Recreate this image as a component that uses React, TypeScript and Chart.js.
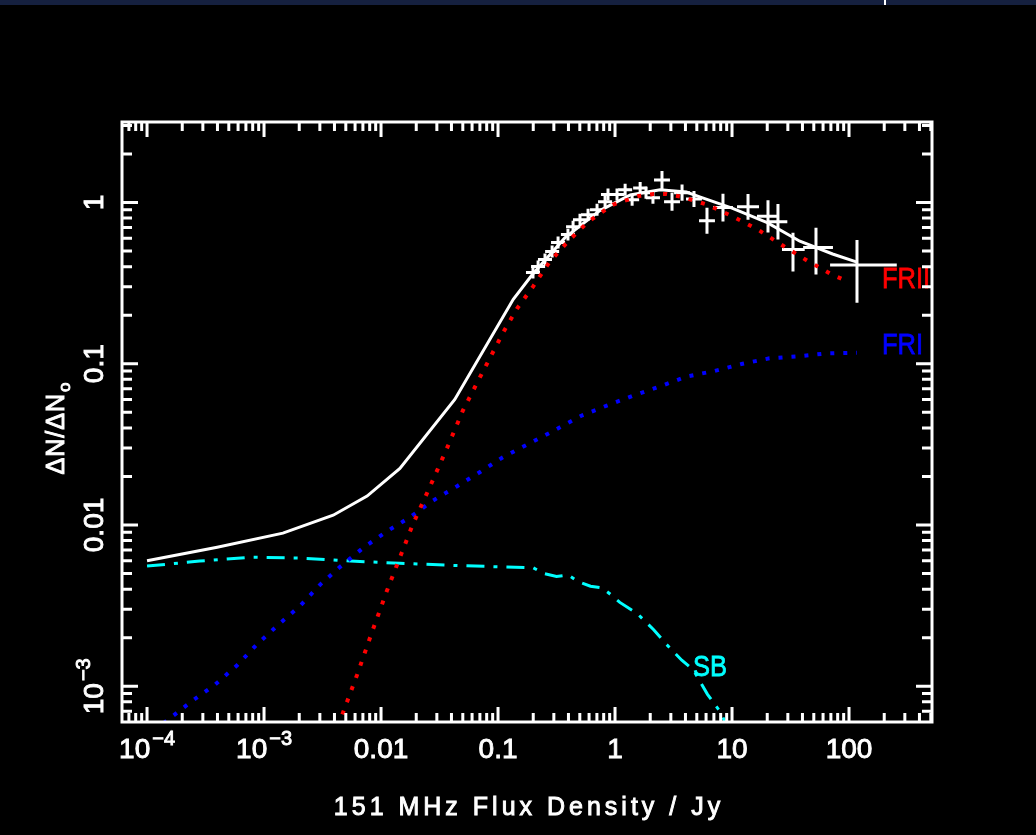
import React, { useEffect, useRef } from 'react';
import { Chart, registerables } from 'chart.js';

Chart.register(...registerables);

const W = 1036;
const H = 835;
const FONT = '"Liberation Sans", Arial, "DejaVu Sans", sans-serif';

// Axis ranges (log)
const xMin = 6.11e-5;
const xMax = 512;
const yMin = 6.17e-4;
const yMax = 3.155;

// Total model (white solid)
const totalX = [1e-4, 3.98e-4, 1.45e-3, 3.9e-3, 7.6e-3, 0.0145, 0.0427, 0.135, 0.195, 0.372, 0.741, 1.35, 2.43, 4.07, 5.37, 10, 20, 38, 72.4, 117];
const totalY = [0.006, 0.00728, 0.0089, 0.0115, 0.0151, 0.0224, 0.06, 0.251, 0.355, 0.603, 0.891, 1.114, 1.2, 1.16, 1.08, 0.923, 0.75, 0.575, 0.479, 0.427];

// FRII (red dotted)
const friiX = [0.00427, 0.00624, 0.00832, 0.0112, 0.0186, 0.0263, 0.0363, 0.0501, 0.0741, 0.11, 0.145, 0.2, 0.275, 0.398, 0.589, 0.955, 1.585, 2.14, 2.75, 3.72, 6.17, 10.2, 16.6, 27.5, 43.7, 72.4, 97.7];
const friiY = [0.000562, 0.001175, 0.00214, 0.00389, 0.01, 0.0174, 0.0295, 0.0513, 0.0891, 0.155, 0.219, 0.302, 0.427, 0.575, 0.759, 0.968, 1.096, 1.13, 1.13, 1.084, 0.968, 0.817, 0.679, 0.537, 0.437, 0.355, 0.324];

// FRI (blue dotted)
const friX = [1.38e-4, 2.45e-4, 3.8e-4, 5.89e-4, 8.71e-4, 1.32e-3, 2.04e-3, 3.02e-3, 4.47e-3, 7.08e-3, 0.0112, 0.0178, 0.0275, 0.0447, 0.0708, 0.11, 0.275, 0.525, 0.851, 1.41, 2.43, 4.07, 7.08, 12.3, 20.9, 36.3, 64.6, 117];
const friY = [5.89e-4, 8.13e-4, 1.02e-3, 1.35e-3, 1.82e-3, 2.4e-3, 3.16e-3, 4.27e-3, 5.5e-3, 7.24e-3, 9.12e-3, 0.0112, 0.0141, 0.0174, 0.0214, 0.0263, 0.0372, 0.0479, 0.055, 0.0631, 0.0724, 0.0832, 0.0902, 0.1, 0.108, 0.111, 0.116, 0.117];

// SB (cyan dash-dot)
const sbX = [1e-4, 2.82e-4, 7.59e-4, 2.04e-3, 5.5e-3, 0.0145, 0.0389, 0.105, 0.2, 0.245, 0.316, 0.398, 0.479, 0.617, 0.776, 0.912, 1.1, 1.55, 2.14, 2.75, 3.72, 4.68, 6.17, 8.13, 9.12];
const sbY = [5.56e-3, 5.97e-3, 6.31e-3, 6.24e-3, 5.97e-3, 5.79e-3, 5.62e-3, 5.5e-3, 5.43e-3, 5.01e-3, 4.79e-3, 4.9e-3, 4.47e-3, 4.17e-3, 4.07e-3, 3.72e-3, 3.31e-3, 2.82e-3, 2.24e-3, 1.82e-3, 1.45e-3, 1.26e-3, 8.91e-4, 6.76e-4, 5.5e-4];

// Observed source counts with error bars (errors in dex)
const pointX = [0.199, 0.22, 0.252, 0.29, 0.326, 0.396, 0.438, 0.502, 0.588, 0.702, 0.822, 0.871, 1.04, 1.22, 1.4, 1.64, 1.84, 2.11, 2.52, 3.07, 3.74, 4.73, 6.11, 8.37, 13.7, 20.3, 24.7, 33.2, 52.2, 117];
const pointY = [0.368, 0.401, 0.443, 0.496, 0.564, 0.632, 0.708, 0.782, 0.839, 0.901, 1.01, 1.12, 1.12, 1.2, 1.04, 1.23, 1.15, 1.07, 1.38, 1.01, 1.15, 1.05, 0.77, 0.93, 0.94, 0.82, 0.76, 0.51, 0.525, 0.41];
const pointExLo = [0.06, 0.06, 0.06, 0.06, 0.06, 0.06, 0.06, 0.06, 0.06, 0.06, 0.06, 0.06, 0.06, 0.06, 0.06, 0.06, 0.06, 0.06, 0.068, 0.068, 0.068, 0.068, 0.068, 0.085, 0.094, 0.094, 0.08, 0.094, 0.11, 0.23];
const pointExHi = [0.06, 0.06, 0.06, 0.06, 0.06, 0.06, 0.06, 0.06, 0.06, 0.06, 0.06, 0.06, 0.06, 0.06, 0.06, 0.06, 0.06, 0.06, 0.068, 0.068, 0.068, 0.068, 0.068, 0.085, 0.094, 0.094, 0.08, 0.1, 0.145, 0.34];
const pointEyLo = [0.037, 0.037, 0.037, 0.037, 0.037, 0.037, 0.037, 0.037, 0.037, 0.037, 0.037, 0.037, 0.037, 0.037, 0.037, 0.037, 0.037, 0.037, 0.056, 0.056, 0.05, 0.05, 0.08, 0.086, 0.08, 0.1, 0.11, 0.135, 0.167, 0.235];
const pointEyHi = [0.037, 0.037, 0.037, 0.037, 0.037, 0.037, 0.037, 0.037, 0.037, 0.037, 0.037, 0.037, 0.037, 0.037, 0.037, 0.037, 0.037, 0.037, 0.056, 0.056, 0.05, 0.05, 0.08, 0.086, 0.08, 0.1, 0.11, 0.105, 0.123, 0.155];

// Tick labels
const xTickValues = [1e-4, 1e-3, 0.01, 0.1, 1, 10, 100];
const xTickBase = ['10', '10', '0.01', '0.1', '1', '10', '100'];
const xTickSup = ['\u22124', '\u22123', '', '', '', '', ''];
const yTickValues = [1e-3, 0.01, 0.1, 1];
const yTickBase = ['10', '0.01', '0.1', '1'];
const yTickSup = ['\u22123', '', '', ''];

// Curve labels (data coordinates of left baseline)
const curveLabelText = ['FRII', 'FRI', 'SB'];
const curveLabelX = [191, 191, 4.64];
const curveLabelY = [0.293, 0.115, 1.16e-3];
const curveLabelColor = ['#ff0000', '#0000ff', '#00ffff'];

const xTitle = '151 MHz Flux Density / Jy';
const yTitleBase = '\u0394N/\u0394N';
const yTitleSub = 'o';

function toXY(xs: number[], ys: number[]) {
  return xs.map((x, i) => ({ x, y: ys[i] }));
}

function heavyText(ctx: CanvasRenderingContext2D, s: string, x: number, y: number, w = 0.9) {
  ctx.fillText(s, x, y);
  ctx.lineWidth = w;
  ctx.strokeStyle = ctx.fillStyle as string;
  ctx.strokeText(s, x, y);
}

function drawSupText(
  ctx: CanvasRenderingContext2D,
  base: string,
  sup: string,
  x: number,
  y: number,
  size: number,
  rot: number
) {
  ctx.save();
  ctx.translate(x, y);
  ctx.rotate(rot);
  ctx.textAlign = 'left';
  ctx.textBaseline = 'alphabetic';
  ctx.font = `${size}px ${FONT}`;
  const wb = ctx.measureText(base).width;
  const ss = Math.round(size * 0.7);
  ctx.font = `${ss}px ${FONT}`;
  const ws = sup ? ctx.measureText(sup).width + 2 : 0;
  const sx = -(wb + ws) / 2;
  ctx.font = `${size}px ${FONT}`;
  heavyText(ctx, base, sx, 0);
  if (sup) {
    ctx.font = `${ss}px ${FONT}`;
    heavyText(ctx, sup, sx + wb + 2, -size * 0.46);
  }
  ctx.restore();
}

const framePlugin = {
  id: 'pgframe',
  beforeDatasetsDraw(chart: any) {
    const ctx: CanvasRenderingContext2D = chart.ctx;
    const xs = chart.scales.x;
    const ys = chart.scales.y;
    const a = chart.chartArea;
    ctx.save();
    ctx.beginPath();
    ctx.rect(a.left, a.top, a.right - a.left, a.bottom - a.top);
    ctx.clip();
    ctx.strokeStyle = '#ffffff';
    ctx.lineWidth = 3;
    ctx.lineCap = 'butt';
    for (let i = 0; i < pointX.length; i++) {
      const px = xs.getPixelForValue(pointX[i]);
      const py = ys.getPixelForValue(pointY[i]);
      const xl = xs.getPixelForValue(pointX[i] / Math.pow(10, pointExLo[i]));
      const xh = xs.getPixelForValue(pointX[i] * Math.pow(10, pointExHi[i]));
      const yl = ys.getPixelForValue(pointY[i] / Math.pow(10, pointEyLo[i]));
      const yh = ys.getPixelForValue(pointY[i] * Math.pow(10, pointEyHi[i]));
      ctx.beginPath();
      ctx.moveTo(xl, py);
      ctx.lineTo(xh, py);
      ctx.moveTo(px, yl);
      ctx.lineTo(px, yh);
      ctx.stroke();
    }
    ctx.restore();
  },
  afterDraw(chart: any) {
    const ctx: CanvasRenderingContext2D = chart.ctx;
    const xs = chart.scales.x;
    const ys = chart.scales.y;
    const a = chart.chartArea;

    // curve labels
    ctx.save();
    ctx.font = `30px ${FONT}`;
    ctx.textAlign = 'left';
    ctx.textBaseline = 'alphabetic';
    for (let i = 0; i < curveLabelText.length; i++) {
      ctx.fillStyle = curveLabelColor[i];
      ctx.save();
      ctx.translate(xs.getPixelForValue(curveLabelX[i]), ys.getPixelForValue(curveLabelY[i]));
      ctx.scale(0.85, 1);
      heavyText(ctx, curveLabelText[i], 0, 0, 0.8);
      ctx.restore();
    }
    ctx.restore();

    // frame
    ctx.save();
    ctx.strokeStyle = '#ffffff';
    ctx.lineWidth = 3;
    ctx.strokeRect(a.left, a.top, a.right - a.left, a.bottom - a.top);

    // ticks
    const majorLen = 15;
    const minorLen = 9;
    ctx.beginPath();
    for (let k = -6; k <= 3; k++) {
      for (let m = 1; m <= 9; m++) {
        const v = m * Math.pow(10, k);
        const len = m === 1 ? majorLen : minorLen;
        if (v >= xMin && v <= xMax) {
          const px = xs.getPixelForValue(v);
          ctx.moveTo(px, a.bottom);
          ctx.lineTo(px, a.bottom - len);
          ctx.moveTo(px, a.top);
          ctx.lineTo(px, a.top + len);
        }
        if (v >= yMin && v <= yMax) {
          const py = ys.getPixelForValue(v);
          ctx.moveTo(a.left, py);
          ctx.lineTo(a.left + len + 1, py);
          ctx.moveTo(a.right, py);
          ctx.lineTo(a.right - len - 1, py);
        }
      }
    }
    ctx.stroke();

    // tick labels
    ctx.fillStyle = '#ffffff';
    for (let i = 0; i < xTickValues.length; i++) {
      drawSupText(ctx, xTickBase[i], xTickSup[i], xs.getPixelForValue(xTickValues[i]), 758, 28, 0);
    }
    for (let i = 0; i < yTickValues.length; i++) {
      drawSupText(ctx, yTickBase[i], yTickSup[i], 103, ys.getPixelForValue(yTickValues[i]), 28, -Math.PI / 2);
    }

    // x title
    ctx.fillStyle = '#ffffff';
    ctx.font = `25px ${FONT}`;
    (ctx as any).letterSpacing = '4px';
    ctx.textAlign = 'center';
    ctx.textBaseline = 'alphabetic';
    heavyText(ctx, xTitle, (a.left + a.right) / 2 + 2, 815);
    (ctx as any).letterSpacing = '0px';

    // y title
    ctx.save();
    ctx.translate(64, 428);
    ctx.rotate(-Math.PI / 2);
    ctx.fillStyle = '#ffffff';
    ctx.font = `25px ${FONT}`;
    (ctx as any).letterSpacing = '1px';
    const wb = ctx.measureText(yTitleBase).width;
    ctx.font = `17px ${FONT}`;
    const wsub = ctx.measureText(yTitleSub).width;
    const sx = -(wb + wsub + 1) / 2;
    ctx.textAlign = 'left';
    ctx.font = `25px ${FONT}`;
    heavyText(ctx, yTitleBase, sx, 0);
    ctx.font = `17px ${FONT}`;
    heavyText(ctx, yTitleSub, sx + wb + 1, 6);
    (ctx as any).letterSpacing = '0px';
    ctx.restore();

    ctx.restore();
  },
};

export default function App() {
  const canvasRef = useRef<HTMLCanvasElement | null>(null);

  useEffect(() => {
    const canvas = canvasRef.current;
    if (!canvas) return;
    const chart = new Chart(canvas, {
      type: 'scatter',
      data: {
        datasets: [
          {
            label: 'FRII',
            data: toXY(friiX, friiY),
            showLine: true,
            borderColor: '#ff0000',
            borderWidth: 4,
            borderDash: [4, 9],
            pointRadius: 0,
            tension: 0,
            order: 0,
          },
          {
            label: 'FRI',
            data: toXY(friX, friY),
            showLine: true,
            borderColor: '#0000ff',
            borderWidth: 4,
            borderDash: [4, 9],
            pointRadius: 0,
            tension: 0,
            order: 1,
          },
          {
            label: 'SB',
            data: toXY(sbX, sbY),
            showLine: true,
            borderColor: '#00ffff',
            borderWidth: 3,
            borderDash: [18, 9, 4, 9],
            pointRadius: 0,
            tension: 0,
            order: 2,
          },
          {
            label: 'Total',
            data: toXY(totalX, totalY),
            showLine: true,
            borderColor: '#ffffff',
            borderWidth: 3,
            pointRadius: 0,
            tension: 0,
            order: 3,
          },
          {
            label: 'Data',
            data: toXY(pointX, pointY),
            showLine: false,
            pointRadius: 0,
            borderColor: '#ffffff',
            backgroundColor: '#ffffff',
            order: 4,
          },
        ],
      },
      options: {
        responsive: false,
        maintainAspectRatio: false,
        animation: false,
        events: [],
        layout: { padding: { left: 122, top: 122, right: W - 932, bottom: H - 722 } },
        plugins: { legend: { display: false }, tooltip: { enabled: false } },
        scales: {
          x: { type: 'logarithmic', min: xMin, max: xMax, display: false },
          y: { type: 'logarithmic', min: yMin, max: yMax, display: false },
        },
      },
      plugins: [framePlugin],
    });
    return () => chart.destroy();
  }, []);

  return (
    <div style={{ position: 'fixed', left: 0, top: 0, width: W, height: H, background: '#000000', overflow: 'hidden' }}>
      <canvas ref={canvasRef} width={W} height={H} style={{ position: 'absolute', left: 0, top: 0, width: W, height: H }} />
      <div style={{ position: 'absolute', left: 0, top: 0, width: W, height: 5, background: '#15203f' }} />
      <div style={{ position: 'absolute', left: 884, top: 0, width: 2, height: 5, background: '#ffffff' }} />
    </div>
  );
}
